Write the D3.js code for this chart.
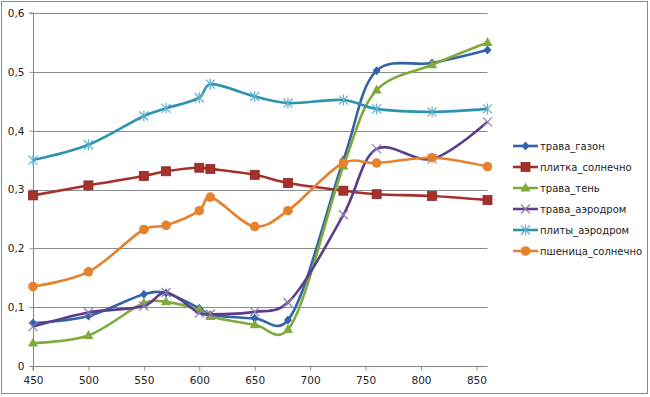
<!DOCTYPE html>
<html><head><meta charset="utf-8">
<script src="https://cdn.jsdelivr.net/npm/d3@7"></script>
<style>body{margin:0;background:#fff}svg{display:block}</style>
</head><body>
<script>
const wavelengths = [450, 500, 550, 570, 600, 610, 650, 680, 730, 760, 810, 860];
const travaGazon = [0.073, 0.085, 0.122, 0.124, 0.098, 0.087, 0.081, 0.078, 0.350, 0.502, 0.515, 0.537];
const plitkaSolnechno = [0.290, 0.307, 0.323, 0.331, 0.337, 0.335, 0.325, 0.311, 0.298, 0.292, 0.289, 0.282];
const travaTen = [0.039, 0.052, 0.107, 0.109, 0.095, 0.084, 0.070, 0.062, 0.340, 0.469, 0.512, 0.550];
const travaAerodrom = [0.067, 0.091, 0.102, 0.125, 0.090, 0.088, 0.092, 0.108, 0.257, 0.369, 0.352, 0.415];
const plityAerodrom = [0.350, 0.376, 0.425, 0.438, 0.456, 0.479, 0.458, 0.447, 0.452, 0.437, 0.432, 0.437];
const pshenitsaSolnechno = [0.135, 0.160, 0.232, 0.239, 0.264, 0.287, 0.237, 0.264, 0.345, 0.345, 0.354, 0.339];
const seriesNames = ["трава_газон", "плитка_солнечно", "трава_тень", "трава_аэродром", "плиты_аэродром", "пшеница_солнечно"];
const xTicks = [450, 500, 550, 600, 650, 700, 750, 800, 850];
const yTicks = [0, 0.1, 0.2, 0.3, 0.4, 0.5, 0.6];

const seriesValues = [travaGazon, plitkaSolnechno, travaTen, travaAerodrom, plityAerodrom, pshenitsaSolnechno];
const colors = ["#3463AA", "#A5302C", "#80AA3C", "#5E3C8C", "#2E93B0", "#E4822E"];
const markers = ["diamond", "square", "triangle", "x", "star", "circle"];

const W = 650, H = 397;
const svg = d3.select("body").append("svg").attr("width", W).attr("height", H)
  .style("font-family", "'DejaVu Sans', sans-serif");

svg.append("rect").attr("x", 1.5).attr("y", 1.5).attr("width", 646).attr("height", 392)
  .attr("fill", "#fff").attr("stroke", "#8a8a8a").attr("stroke-width", 1);

const x = d3.scaleLinear().domain([450, 860]).range([33, 487.5]);
const y = d3.scaleLinear().domain([0, 0.6]).range([366, 13]);

// gridlines
svg.append("g").selectAll("line").data(yTicks.filter(d => d > 0)).join("line")
  .attr("x1", x(450)).attr("x2", x(860))
  .attr("y1", d => Math.round(y(d)) + 0.5).attr("y2", d => Math.round(y(d)) + 0.5)
  .attr("stroke", "#8c8c8c").attr("stroke-width", 1);

const fmt = d => d3.format(".1f")(d).replace(".", ",");
const yAxis = svg.append("g").attr("transform", `translate(${x(450) + 0.5},0)`)
  .call(d3.axisLeft(y).tickValues(yTicks).tickSize(4).tickPadding(5).tickFormat(d => d === 0 ? "0" : fmt(d)));
const xAxis = svg.append("g").attr("transform", `translate(0,${Math.round(y(0)) + 0.5})`)
  .call(d3.axisBottom(x).tickValues(xTicks).tickSize(4).tickPadding(6).tickFormat(d3.format("d")));
[yAxis, xAxis].forEach(a => {
  a.select(".domain").attr("stroke", "#868686");
  a.selectAll(".tick line").attr("stroke", "#868686");
  a.selectAll("text").attr("fill", "#222").style("font-size", "10.5px").style("font-family", "'DejaVu Sans', sans-serif");
});
xAxis.select(".domain").attr("d", `M${x(450)},4V0H${x(860)}`);
yAxis.select(".domain").attr("d", `M-4,${y(0.6)}H0V${y(0)}`);

const line = d3.line().curve(d3.curveCatmullRom.alpha(0.25)).x(d => x(d[0])).y(d => y(d[1]));

function drawMarker(g, type, cx, cy, color) {
  const s = 4;
  if (type === "diamond") {
    g.append("path").attr("d", `M${cx},${cy - s - 0.5}L${cx + s},${cy}L${cx},${cy + s + 0.5}L${cx - s},${cy}Z`).attr("fill", color);
  } else if (type === "square") {
    g.append("rect").attr("x", cx - 4.5).attr("y", cy - 4.5).attr("width", 9).attr("height", 9)
      .attr("fill", color).attr("stroke", d3.color(color).darker(0.5)).attr("stroke-width", 0.8);
  } else if (type === "triangle") {
    g.append("path").attr("d", `M${cx},${cy - 5.5}L${cx + 5},${cy + 3.5}L${cx - 5},${cy + 3.5}Z`).attr("fill", color);
  } else if (type === "x") {
    g.append("path").attr("d", `M${cx - 4.5},${cy - 4.5}L${cx + 4.5},${cy + 4.5}M${cx - 4.5},${cy + 4.5}L${cx + 4.5},${cy - 4.5}`)
      .attr("stroke", "#8a7fb0").attr("stroke-width", 1.2);
  } else if (type === "star") {
    g.append("path").attr("d", `M${cx - 4.5},${cy - 4.5}L${cx + 4.5},${cy + 4.5}M${cx - 4.5},${cy + 4.5}L${cx + 4.5},${cy - 4.5}M${cx},${cy - 5.5}L${cx},${cy + 5.5}`)
      .attr("stroke", "#5fb2cc").attr("stroke-width", 1.2);
  } else if (type === "circle") {
    g.append("circle").attr("cx", cx).attr("cy", cy).attr("r", 4.8).attr("fill", color);
  }
}

seriesValues.forEach((vals, i) => {
  const pts = wavelengths.map((w, j) => [w, vals[j]]);
  const g = svg.append("g");
  g.append("path").datum(pts).attr("d", line).attr("fill", "none")
    .attr("stroke", colors[i]).attr("stroke-width", 2.6).attr("stroke-linejoin", "round");
  pts.forEach(p => drawMarker(g, markers[i], x(p[0]), y(p[1]), colors[i]));
});

// legend
const lg = svg.append("g");
seriesNames.forEach((name, i) => {
  const ly = 146 + i * 21;
  lg.append("line").attr("x1", 513).attr("x2", 538).attr("y1", ly).attr("y2", ly)
    .attr("stroke", colors[i]).attr("stroke-width", 2.6);
  drawMarker(lg, markers[i], 525.5, ly, colors[i]);
  lg.append("text").attr("x", 540).attr("y", ly + 3.5).text(name)
    .attr("fill", "#222").style("font-size", "10px");
});
</script>
</body></html>
